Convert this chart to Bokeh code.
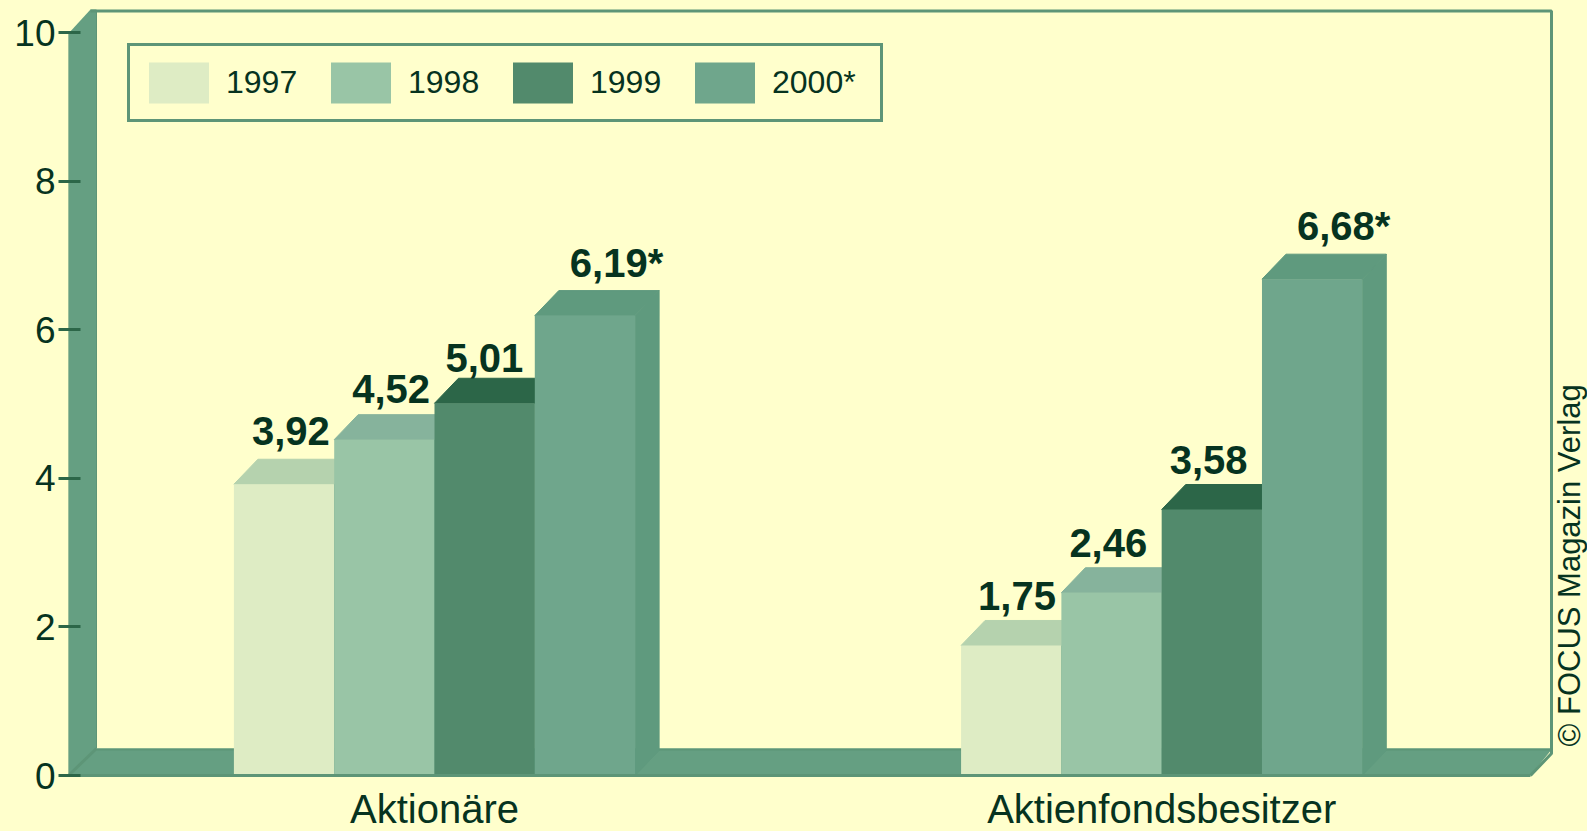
from bokeh.embed import file_html
from bokeh.resources import INLINE
from bokeh.plotting import figure
from bokeh.models import (ColumnDataSource, FixedTicker, GlobalInlineStyleSheet, Label,
                          Legend, LegendItem, Range1d)
from bokeh.core.properties import value

# ---------- data ----------
years = ["1997", "1998", "1999", "2000*"]
categories = ["Aktionäre", "Aktienfondsbesitzer"]
aktionaere = [3.92, 4.52, 5.01, 6.19]
fondsbesitzer = [1.75, 2.46, 3.58, 6.68]
value_labels_a = ["3,92", "4,52", "5,01", "6,19*"]
value_labels_f = ["1,75", "2,46", "3,58", "6,68*"]
y_ticks = [0, 2, 4, 6, 8, 10]
credit = "© FOCUS Magazin Verlag"

# ---------- style ----------
BG = "#ffffcc"
WALL = "#659f82"
EDGE = "#5d9577"
TEXT = "#06331f"
FRONT = ["#deecc4", "#99c5a6", "#528a6c", "#6fa68c"]
TOP = ["#b5d2ae", "#86b39c", "#2c6648", "#5f9a7e"]
SIDE = "#5f9a7e"
FONT = "Liberation Sans"

# page-pixel geometry of the plot frame
W, H = 1587, 831
FRAME_L, FRAME_R, FRAME_T, FRAME_B = 68, 1587, 0, 831
Y0_PX, PX_PER_Y = 775.0, 74.3
PX_PER_X, X0_PX = 100.3, 434.0
GROUP_X = [0.0, 7.25]
DEPTH_PX_X, DEPTH_PX_Y = 24, 25
DX = DEPTH_PX_X / PX_PER_X
DY = DEPTH_PX_Y / PX_PER_Y
LABEL_DX_A = [18, 18, 11, 35]
LABEL_DX_F = [17, 8, 8, 35]
LABEL_DY_A = [14, 12, 6, 6]
LABEL_DY_F = [10, 11, 11, 6]


def X(px):
    return (px - X0_PX) / PX_PER_X


def Y(py):
    return (Y0_PX - py) / PX_PER_Y


p = figure(
    width=W, height=H, output_backend="svg", toolbar_location=None,
    x_range=Range1d(X(FRAME_L), X(FRAME_R)), y_range=Range1d(Y(FRAME_B), Y(FRAME_T)),
    min_border_left=FRAME_L, min_border_right=W - FRAME_R,
    min_border_top=0, min_border_bottom=H - FRAME_B,
    background_fill_color=BG, border_fill_color=BG, outline_line_color=None,
)
p.stylesheets = [GlobalInlineStyleSheet(css=f"html,body{{background:{BG};margin:0;padding:0;overflow:hidden;}}")]
p.grid.visible = False

# 3D room: wall, floor and back edges
p.patch([X(v) for v in (68, 68, 90, 96, 96)], [Y(v) for v in (775, 33, 9, 9, 748)],
        fill_color=WALL, line_color=None)
p.patch([X(v) for v in (68, 96, 1552, 1530)], [Y(v) for v in (775, 748, 748, 775)],
        fill_color=WALL, line_color=None)
p.line([X(90), X(1551), X(1551), X(1530)], [Y(10.5), Y(10.5), Y(753), Y(775)], line_color=EDGE, line_width=3)
p.line([X(96), X(1551)], [Y(749), Y(749)], line_color=EDGE, line_width=2)
p.line([X(68), X(96)], [Y(775), Y(748)], line_color=EDGE, line_width=3)
p.line([X(96), X(96)], [Y(10), Y(748)], line_color=EDGE, line_width=1)
p.line([X(68), X(68)], [Y(33), Y(775)], line_color=EDGE, line_width=1)

# bars
legend_items = []
for s, year in enumerate(years):
    lefts = [g - 2 + s for g in GROUP_X]
    rights = [l + 1 for l in lefts]
    vals = [aktionaere[s], fondsbesitzer[s]]
    for l, r, v in zip(lefts, rights, vals):
        p.patch([r, r + DX, r + DX, r], [0, DY, v + DY, v], fill_color=SIDE, line_color=SIDE, line_width=1)
        p.patch([l, l + DX, r + DX, r], [v, v + DY, v + DY, v], fill_color=TOP[s], line_color=TOP[s], line_width=1)
    src = ColumnDataSource(dict(left=lefts, right=rights, top=vals, bottom=[0, 0]))
    q = p.quad(left="left", right="right", top="top", bottom="bottom", source=src,
               fill_color=FRONT[s], line_color=None)
    legend_items.append(LegendItem(label=value(year), renderers=[q]))

# front floor edge
p.line([X(68), X(1530)], [Y(775), Y(775)], line_color=EDGE, line_width=3)

# value labels
for g, vals, labs, dxs, dys in ((0, aktionaere, value_labels_a, LABEL_DX_A, LABEL_DY_A),
                                (1, fondsbesitzer, value_labels_f, LABEL_DX_F, LABEL_DY_F)):
    for s, (v, lab) in enumerate(zip(vals, labs)):
        p.add_layout(Label(
            x=GROUP_X[g] - 2 + s + dxs[s] / PX_PER_X,
            y=v + DY + dys[s] / PX_PER_Y,
            text=lab, text_font=FONT, text_font_style="bold", text_font_size="40px",
            text_color=TEXT, text_align="left", text_baseline="bottom"))

# credit text
p.add_layout(Label(x=X(1569), y=Y(746), text=credit, angle=90, angle_units="deg",
                   text_font=FONT, text_font_size="31px", text_color=TEXT,
                   text_align="left", text_baseline="alphabetic"))

# category names below the floor
p.text(x=GROUP_X, y=[Y(808)] * len(GROUP_X), text=categories, text_font=value(FONT),
       text_font_size="40px", text_color=TEXT, text_align="center", text_baseline="middle")

# axes
p.xaxis.visible = False
ya = p.yaxis[0]
ya.ticker = FixedTicker(ticks=y_ticks)
ya.axis_line_color = None
ya.major_tick_line_color = "#2c6648"
ya.major_tick_line_width = 3
ya.major_tick_in = 12
ya.major_tick_out = 10
ya.minor_tick_line_color = None
ya.major_label_text_font = FONT
ya.major_label_text_font_size = "37px"
ya.major_label_text_color = TEXT
ya.major_label_standoff = 3

# legend
legend = Legend(
    items=legend_items, orientation="horizontal",
    location=(127 - FRAME_L, FRAME_B - 122), margin=0, padding=11,
    glyph_width=75, glyph_height=51, label_standoff=10, spacing=0, label_width=97, label_height=51,
    label_text_font=FONT, label_text_font_size="32px", label_text_color=TEXT,
    border_line_color=EDGE, border_line_width=3, border_line_alpha=1, background_fill_alpha=0,
)
p.add_layout(legend)

open("out.html", "w").write(file_html(p, INLINE))
